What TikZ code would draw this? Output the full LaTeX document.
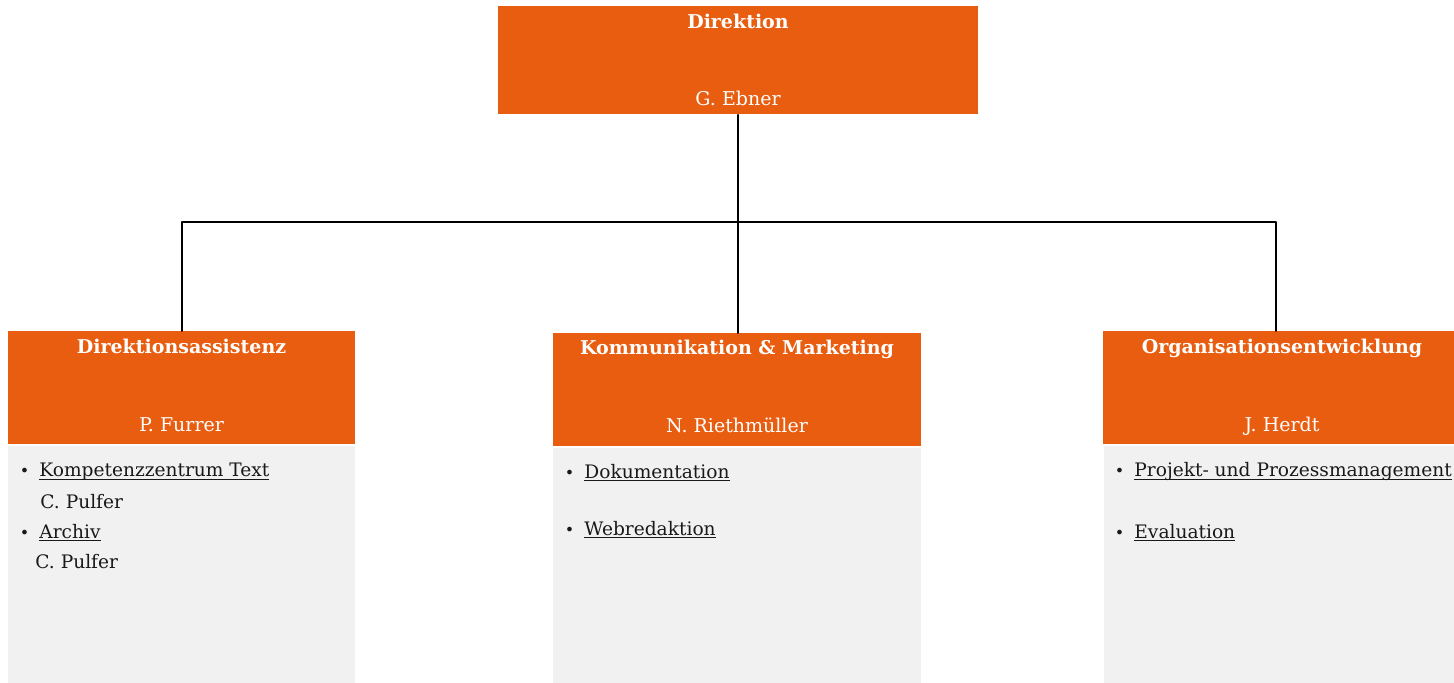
\documentclass[tikz,border=0pt]{standalone}
\usepackage{fontspec}
\setmainfont{DejaVu Serif}
\definecolor{orgorange}{HTML}{E85D0F}
\definecolor{boxgray}{HTML}{F1F1F1}
\newlength\ulw
\newcommand\ulink[1]{\settowidth\ulw{#1}\rlap{#1}\rule[-1.6pt]{\ulw}{0.5pt}}
\newcommand\bul{\llap{{\fontsize{8}{8}\selectfont\textbullet}\hspace{5pt}}}

\begin{document}
\begin{tikzpicture}[x=0.5pt,y=-0.5pt,line join=round,line cap=round,
  font=\fontsize{9.5}{11}\selectfont,
  head/.style={fill=orgorange,draw=none,inner sep=0pt,anchor=north west},
  body/.style={fill=boxgray,draw=none,inner sep=0pt,anchor=north west},
  ttl/.style={text=white,font=\fontsize{9.5}{11}\selectfont\bfseries,anchor=base,inner sep=0pt},
  who/.style={text=white,anchor=base,inner sep=0pt},
  item/.style={anchor=base west,inner sep=0pt,text=black!90,font=\fontsize{9.3}{11}\selectfont}]
  \useasboundingbox (0,0) rectangle (1454,683);
  % boxes
  \node[head,minimum width=240pt,minimum height=54pt] (direktion) at (498,6) {};
  \node[head,minimum width=173.5pt,minimum height=56.5pt] (assist) at (8,331) {};
  \node[head,minimum width=184pt,minimum height=56.5pt] (kommu) at (553,333) {};
  \node[head,minimum width=175.5pt,minimum height=56.5pt] (orga) at (1103,331) {};
  \node[body,minimum width=173.5pt,minimum height=118.5pt] (assistbody) at (8,446) {};
  \node[body,minimum width=184pt,minimum height=117.5pt] (kommubody) at (553,448) {};
  \node[body,minimum width=175pt,minimum height=118.5pt] (orgabody) at (1104,446) {};
  % titles and names
  \node[ttl] (direktionttl) at (738,29) {Direktion};
  \node[who] (direktionwho) at (738,106) {G. Ebner};
  \node[ttl] (assistttl) at (181.5,354) {Direktionsassistenz};
  \node[who] (assistwho) at (181.5,431) {P. Furrer};
  \node[ttl] (kommuttl) at (737,355) {Kommunikation \& Marketing};
  \node[who] (kommuwho) at (737,432.5) {N. Riethmüller};
  \node[ttl] (orgattl) at (1282,354) {Organisationsentwicklung};
  \node[who] (orgawho) at (1282,431) {J. Herdt};
  % lists
  \node[item] (kompetenz) at (39,476.5) {\bul\ulink{Kompetenzzentrum Text}};
  \node[item] (pulfera) at (40,508) {C. Pulfer};
  \node[item] (archiv) at (39,538) {\bul\ulink{Archiv}};
  \node[item] (pulferb) at (35,568) {C. Pulfer};
  \node[item] (doku) at (584,478) {\bul\ulink{Dokumentation}};
  \node[item] (web) at (584,535) {\bul\ulink{Webredaktion}};
  \node[item] (projekt) at (1134,476.5) {\bul\ulink{Projekt- und Prozessmanagement}};
  \node[item] (evaluation) at (1134,538) {\bul\ulink{Evaluation}};
  % connectors
  \coordinate (hub) at (738,222);
  \draw[line width=1pt] (direktion.south) -- (direktion.south |- kommu.north);
  \draw[line width=1pt] (assist.north) |- (hub) -| ([xshift=-1.25pt]orga.north);
\end{tikzpicture}
\end{document}
